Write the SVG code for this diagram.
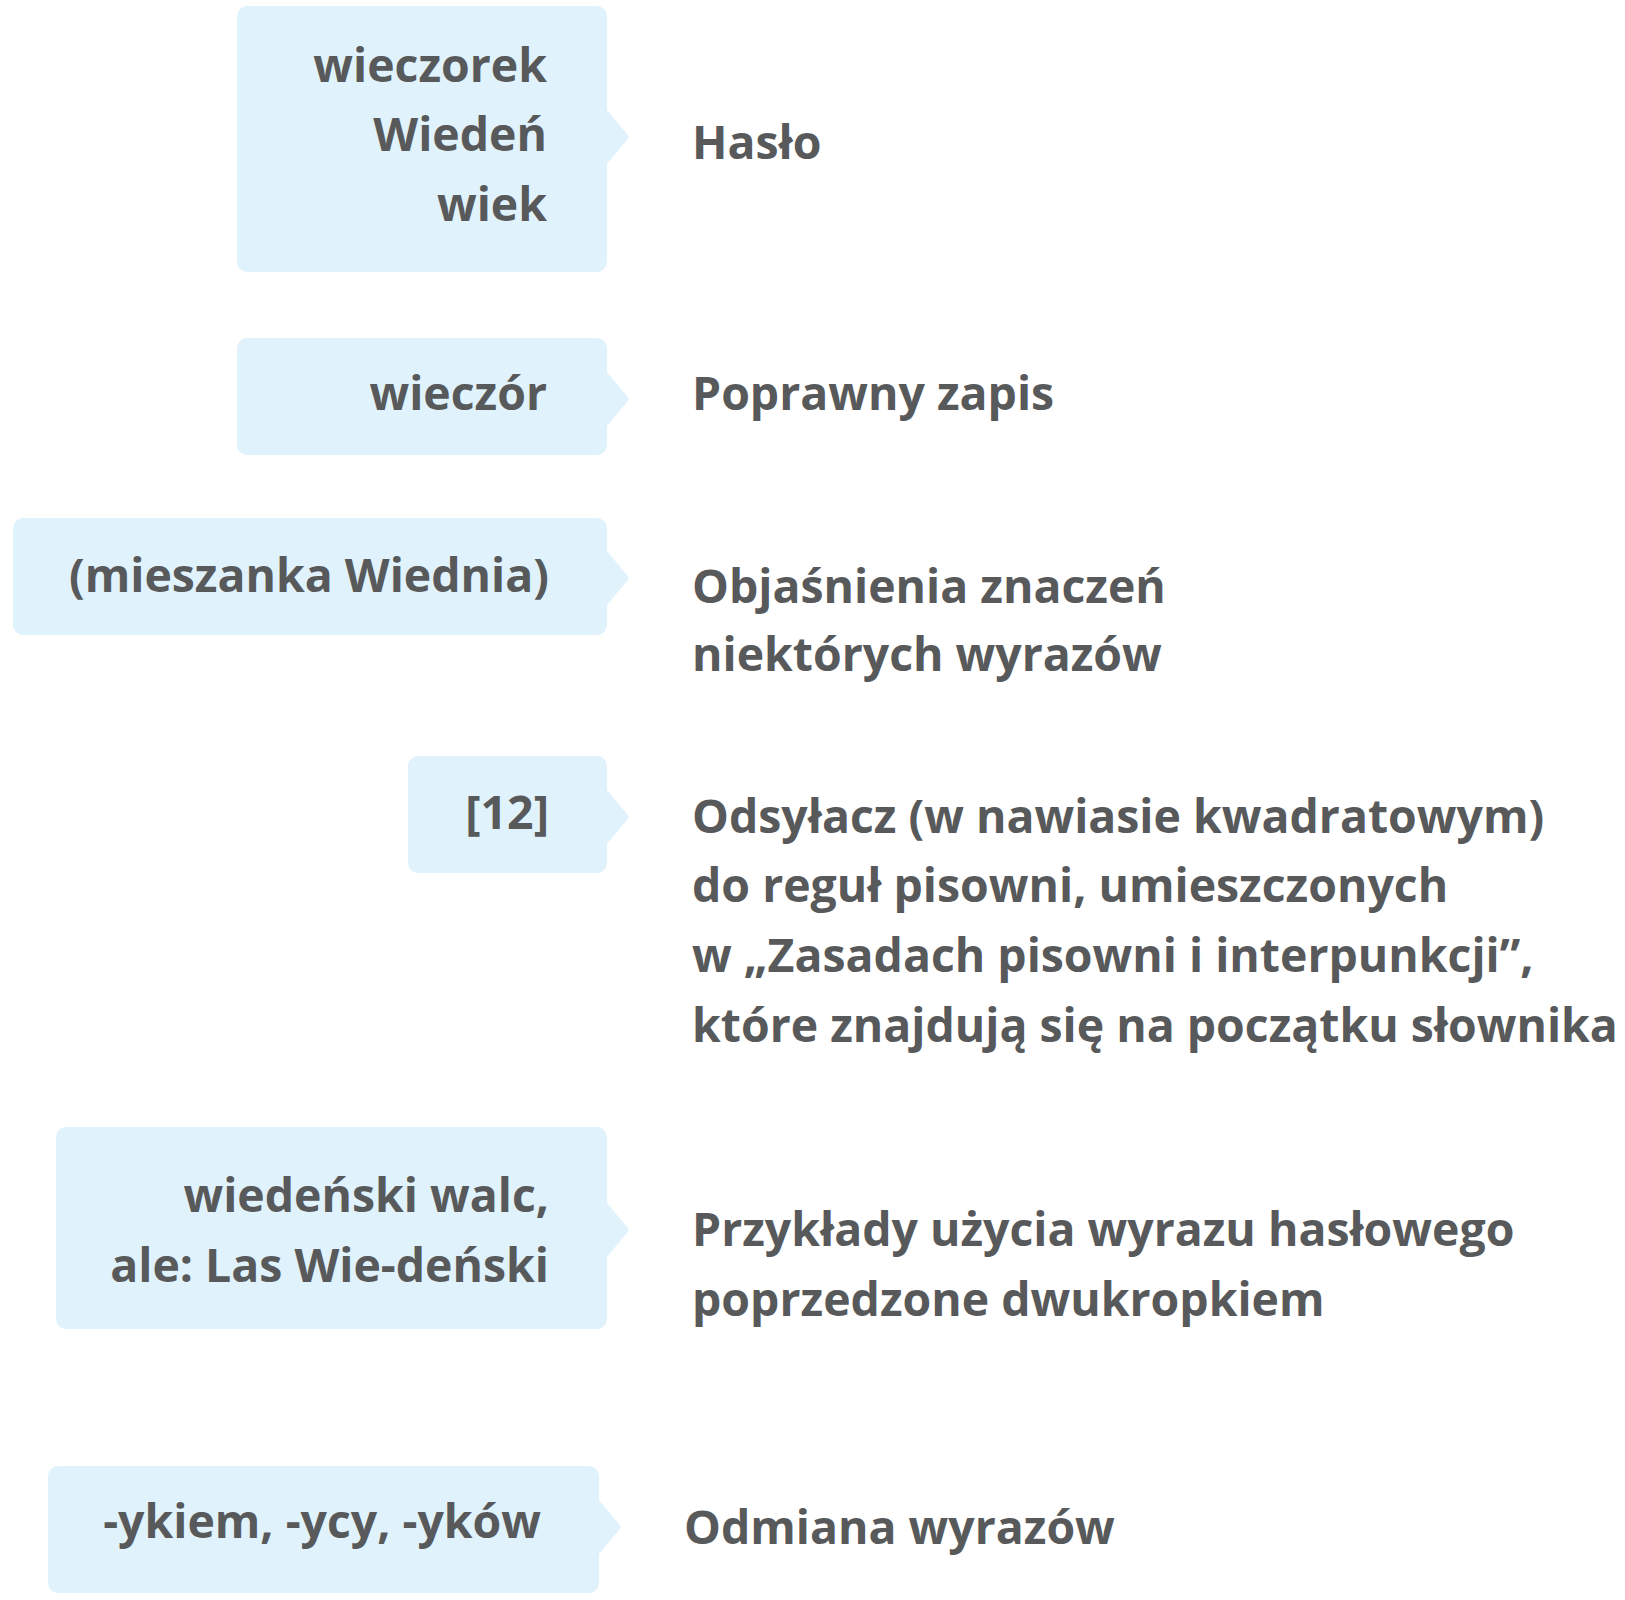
<svg xmlns="http://www.w3.org/2000/svg" width="1625" height="1600" viewBox="0 0 1625 1600">
<style>
.box{fill:#e0f2fc}
.t{font-family:"Open Sans","Noto Sans","DejaVu Sans",sans-serif;font-weight:bold;font-size:46.4px;fill:#58595b}
.r{text-anchor:end}
</style>
<rect width="1625" height="1600" fill="#ffffff"/>
<g id="node-haslo">
<rect class="box" x="237" y="6" width="370" height="266" rx="10"/>
<path class="box" d="M606,109 L627,134 Q630,137 627,140 L606,165 Z"/>
<text class="t r" x="547" y="82">wieczorek</text>
<text class="t r" x="547" y="151">Wiedeń</text>
<text class="t r" x="547" y="221">wiek</text>
</g>
<g id="node-zapis">
<rect class="box" x="237" y="338" width="370" height="117" rx="10"/>
<path class="box" d="M606,371 L627,396 Q630,399 627,402 L606,427 Z"/>
<text class="t r" x="547" y="410">wieczór</text>
</g>
<g id="node-objasnienia">
<rect class="box" x="13" y="518" width="594" height="117" rx="10"/>
<path class="box" d="M606,550 L627,575 Q630,578 627,581 L606,606 Z"/>
<text class="t r" x="549" y="592">(mieszanka Wiednia)</text>
</g>
<g id="node-odsylacz">
<rect class="box" x="408" y="756" width="199" height="117" rx="10"/>
<path class="box" d="M606,789 L627,814 Q630,817 627,820 L606,845 Z"/>
<text class="t r" x="549" y="829">[12]</text>
</g>
<g id="node-przyklady">
<rect class="box" x="56" y="1127" width="551" height="202" rx="10"/>
<path class="box" d="M606,1202 L627,1227 Q630,1230 627,1233 L606,1258 Z"/>
<text class="t r" x="549" y="1212">wiedeński walc,</text>
<text class="t r" x="549" y="1282">ale: Las Wie-deński</text>
</g>
<g id="node-odmiana">
<rect class="box" x="48" y="1466" width="551" height="127" rx="10"/>
<path class="box" d="M598,1499 L619,1524 Q622,1527 619,1530 L598,1555 Z"/>
<text class="t r" x="541" y="1538">-ykiem, -ycy, -yków</text>
</g>
<g id="labels">
<text class="t" x="692" y="159">Hasło</text>
<text class="t" x="692" y="410">Poprawny zapis</text>
<text class="t" x="692" y="603">Objaśnienia znaczeń</text>
<text class="t" x="692" y="671">niektórych wyrazów</text>
<text class="t" x="692" y="833">Odsyłacz (w nawiasie kwadratowym)</text>
<text class="t" x="692" y="902">do reguł pisowni, umieszczonych</text>
<text class="t" x="692" y="972">w „Zasadach pisowni i interpunkcji”,</text>
<text class="t" x="692" y="1042">które znajdują się na początku słownika</text>
<text class="t" x="692" y="1246">Przykłady użycia wyrazu hasłowego</text>
<text class="t" x="692" y="1316">poprzedzone dwukropkiem</text>
<text class="t" x="684" y="1544">Odmiana wyrazów</text>
</g>
<g id="connectors"></g>
</svg>
